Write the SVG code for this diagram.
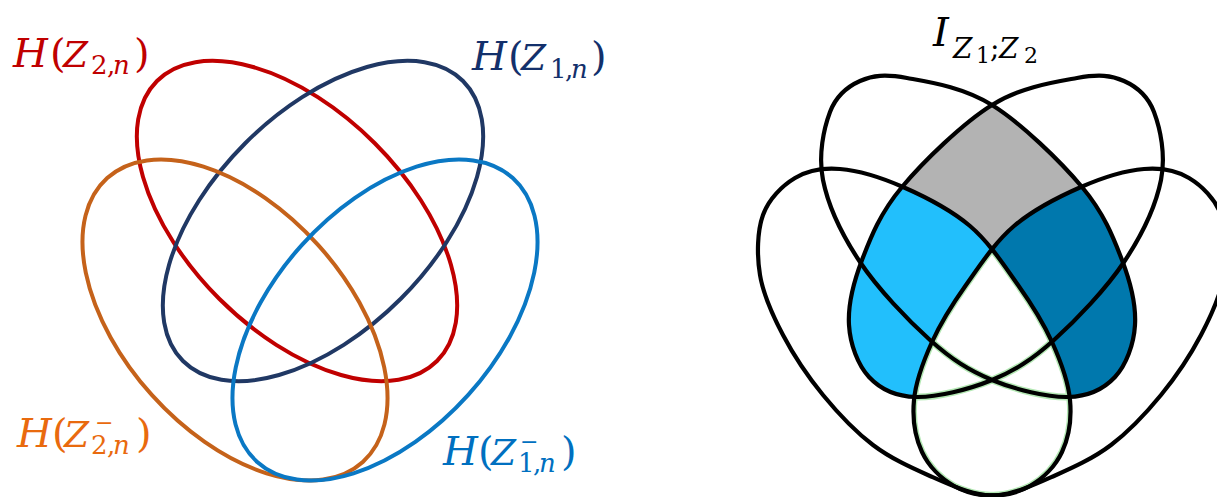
<svg xmlns="http://www.w3.org/2000/svg" width="1217" height="497" viewBox="0 0 1217 497">
<style>
.m{font-family:"DejaVu Serif","Liberation Serif",serif;font-size:40px;}
.i{font-style:italic;}
.z{font-size:36px;}
.s{font-size:26px;}
.t{font-size:28px;}
.ss{font-size:22px;}
.mi{font-size:22px;}
.ring{fill:none;stroke-width:4;}
.k{fill:none;stroke:#000;stroke-width:4.2;stroke-linejoin:round;}
.g{fill:none;stroke:#b4e8b4;stroke-width:7;}
</style>
<defs>
<path id="pA" d="M907,78 C929,82 962.8,86.8 992,105 C1021.2,123.2 1060.3,161.2 1082,187 C1103.7,212.8 1113.2,237 1122,260 C1130.8,283 1136.2,305.5 1135,325 C1133.8,344.5 1126.2,365 1115,377 C1103.8,389 1088.5,396.5 1068,397 C1047.5,397.5 1015,389.5 992,380 C969,370.5 952,359.7 930,340 C908,320.3 877.8,288.7 860,262 C842.2,235.3 828,205 823,180 C818,155 823.8,128.5 830,112 C836.2,95.5 847.2,86.7 860,81 C872.8,75.3 885,74 907,78 Z"/>
<path id="pB" d="M1077,78 C1055,82 1021.2,86.8 992,105 C962.8,123.2 923.7,161.2 902,187 C880.3,212.8 870.8,237 862,260 C853.2,283 847.8,305.5 849,325 C850.2,344.5 857.8,365 869,377 C880.2,389 895.5,396.5 916,397 C936.5,397.5 969,389.5 992,380 C1015,370.5 1032,359.7 1054,340 C1076,320.3 1106.2,288.7 1124,262 C1141.8,235.3 1156,205 1161,180 C1166,155 1160.2,128.5 1154,112 C1147.8,95.5 1136.8,86.7 1124,81 C1111.2,75.3 1099,74 1077,78 Z"/>
<path id="pC" d="M840,169 C858,170.5 881.3,177.5 903,187 C924.7,196.5 950.8,209.7 970,226 C989.2,242.3 1004.3,265.7 1018,285 C1031.7,304.3 1043.3,322.8 1052,342 C1060.7,361.2 1068.3,381.7 1070,400 C1071.7,418.3 1068.7,437.7 1062,452 C1055.3,466.3 1042.8,478.8 1030,486 C1017.2,493.2 1001.7,496.7 985,495 C968.3,493.3 948.7,484.3 930,476 C911.3,467.7 890.8,458.5 873,445 C855.2,431.5 838,413.3 823,395 C808,376.7 793.5,355 783,335 C772.5,315 763.3,295 760,275 C756.7,255 757.2,231.2 763,215 C768.8,198.8 782.2,185.7 795,178 C807.8,170.3 822,167.5 840,169 Z"/>
<path id="pD" d="M1144,169 C1126,170.5 1102.7,177.5 1081,187 C1059.3,196.5 1033.2,209.7 1014,226 C994.8,242.3 979.7,265.7 966,285 C952.3,304.3 940.7,322.8 932,342 C923.3,361.2 915.7,381.7 914,400 C912.3,418.3 915.3,437.7 922,452 C928.7,466.3 941.2,478.8 954,486 C966.8,493.2 982.3,496.7 999,495 C1015.7,493.3 1035.3,484.3 1054,476 C1072.7,467.7 1093.2,458.5 1111,445 C1128.8,431.5 1146,413.3 1161,395 C1176,376.7 1190.5,355 1201,335 C1211.5,315 1220.7,295 1224,275 C1227.3,255 1226.8,231.2 1221,215 C1215.2,198.8 1201.8,185.7 1189,178 C1176.2,170.3 1162,167.5 1144,169 Z"/>
<clipPath id="cB"><use href="#pB"/></clipPath>
<clipPath id="cC"><use href="#pC"/></clipPath>
<clipPath id="cD"><use href="#pD"/></clipPath>
</defs>
<rect width="1217" height="497" fill="#fff"/>

<!-- Left diagram -->
<g id="set-H-Z2n">
<ellipse class="ring" cx="297" cy="221" rx="198" ry="110" transform="rotate(45 297 221)" stroke="#c00000"/>
<text class="m" fill="#c00000"><tspan class="i" x="13" y="67">H</tspan><tspan x="50" y="67">(</tspan><tspan class="i z" x="63" y="67">Z</tspan><tspan class="s" x="91" y="74">2</tspan><tspan class="s" x="107" y="74">,</tspan><tspan class="s i" x="113" y="74">n</tspan><tspan x="134" y="67">)</tspan></text>
</g>
<g id="set-H-Z1n">
<ellipse class="ring" cx="323" cy="221" rx="198" ry="110" transform="rotate(-45 323 221)" stroke="#203864"/>
<text class="m" fill="#13306b"><tspan class="i" x="472" y="70">H</tspan><tspan x="508" y="70">(</tspan><tspan class="i z" x="521" y="70">Z</tspan><tspan class="s" x="550" y="78">1</tspan><tspan class="s" x="565" y="78">,</tspan><tspan class="s i" x="571" y="78">n</tspan><tspan x="591" y="70">)</tspan></text>
</g>
<g id="set-H-Z2n-minus">
<ellipse class="ring" cx="235" cy="320" rx="191" ry="112" transform="rotate(48 235 320)" stroke="#c5621a"/>
<text class="m" fill="#e96a0e"><tspan class="i" x="17" y="447">H</tspan><tspan x="52" y="447">(</tspan><tspan class="i z" x="64" y="447">Z</tspan><tspan class="mi" x="95" y="430">−</tspan><tspan class="s" x="91" y="454">2</tspan><tspan class="s" x="107" y="454">,</tspan><tspan class="s i" x="113" y="454">n</tspan><tspan x="136" y="447">)</tspan></text>
</g>
<g id="set-H-Z1n-minus">
<ellipse class="ring" cx="385" cy="320" rx="191" ry="112" transform="rotate(-48 385 320)" stroke="#0a78c4"/>
<text class="m" fill="#0070c0"><tspan class="i" x="443" y="465">H</tspan><tspan x="478" y="465">(</tspan><tspan class="i z" x="491" y="465">Z</tspan><tspan class="mi" x="520" y="449">−</tspan><tspan class="s" x="518" y="472">1</tspan><tspan class="s" x="533" y="472">,</tspan><tspan class="s i" x="539" y="472">n</tspan><tspan x="561" y="465">)</tspan></text>
</g>

<!-- Right diagram -->
<g id="regions">
<use href="#pA" fill="#b3b3b3" clip-path="url(#cB)"/>
<use href="#pC" fill="#fff"/>
<use href="#pD" fill="#fff"/>
<use href="#pB" fill="#22bffc" clip-path="url(#cC)"/>
<use href="#pA" fill="#0078ad" clip-path="url(#cD)"/>
<use href="#pC" fill="#fff" clip-path="url(#cD)"/>
</g>
<g id="fringe" clip-path="url(#cC)"><g clip-path="url(#cD)">
<use href="#pA" class="g"/><use href="#pB" class="g"/><use href="#pC" class="g"/><use href="#pD" class="g"/>
</g></g>
<g id="set-A"><use href="#pA" class="k"/></g>
<g id="set-B"><use href="#pB" class="k"/></g>
<g id="set-C"><use href="#pC" class="k"/></g>
<g id="set-D"><use href="#pD" class="k"/></g>
<g id="label-I">
<text class="m" fill="#000"><tspan class="i" x="933" y="46" style="font-size:40px">I</tspan><tspan class="t i" x="953" y="58">Z</tspan><tspan class="ss" x="976" y="63">1</tspan><tspan class="t" x="990" y="58">;</tspan><tspan class="t i" x="999" y="58">Z</tspan><tspan class="ss" x="1024" y="63">2</tspan></text>
</g>
</svg>
